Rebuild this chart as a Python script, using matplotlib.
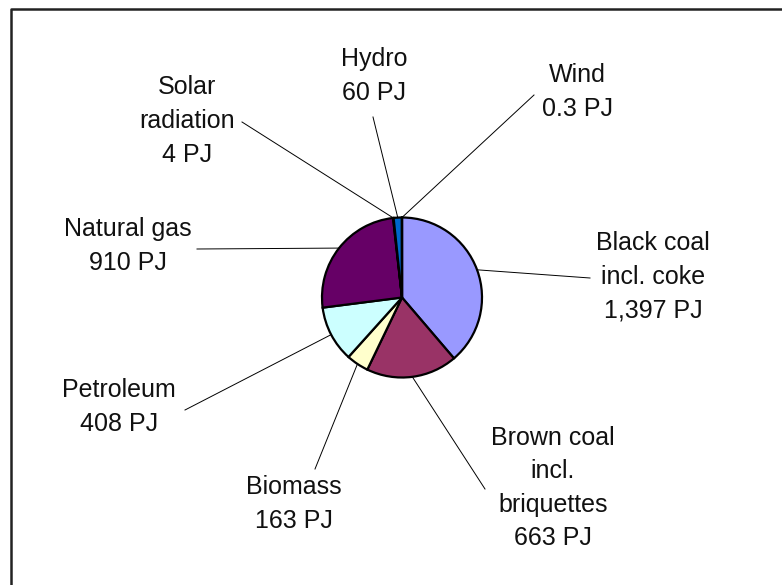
import matplotlib.pyplot as plt
import numpy as np

plt.rcParams['font.family'] = ['Liberation Sans', 'DejaVu Sans']

# energy sources, PJ
labels = ['Black coal\nincl. coke', 'Brown coal\nincl.\nbriquettes', 'Biomass',
          'Petroleum', 'Natural gas', 'Solar\nradiation', 'Hydro', 'Wind']
values = [1397, 663, 163, 408, 910, 4, 60, 0.3]
colors = ['#9999FF', '#993366', '#FFFFCC', '#CCFFFF', '#660066', '#FF8080', '#0066CC', '#CCCCFF']

# label layout in pixel coords (x, y from top) + where the leader starts
text_pos = [(653, 277), (553, 488), (294, 504), (119, 407), (128, 246), (187, 121), (374, 76), (577, 92)]
lead_pos = [(590, 278), (485, 489), (315, 469), (185, 410), (197, 249), (242, 122), (373, 117), (534, 95)]

W, H = 782, 585
fig = plt.figure(figsize=(W / 100, H / 100), dpi=100)
ax = fig.add_axes([0, 0, 1, 1])

cx, cy, r = 402, H - 297.5, 80
wedges, _ = ax.pie(values, colors=colors, startangle=90, counterclock=False,
                   center=(cx, cy), radius=r,
                   wedgeprops=dict(edgecolor='black', linewidth=1.6))

for w, lab, v, tp, lp in zip(wedges, labels, values, text_pos, lead_pos):
    mid = np.deg2rad((w.theta1 + w.theta2) / 2)
    px, py = cx + r * np.cos(mid), cy + r * np.sin(mid)
    ax.plot([lp[0], px], [H - lp[1], py], color='black', lw=0.7)
    ax.text(tp[0], H - tp[1], f'{lab}\n{v:,g} PJ', ha='center', va='center',
            fontsize=18, linespacing=1.5, color='#111111')

# chart frame (only top/left visible)
ax.plot([11, 11, W], [0, H - 8.5, H - 8.5], color='#222222', lw=1.8, clip_on=False)

ax.set_xlim(0, W)
ax.set_ylim(0, H)
ax.set_aspect('auto')
ax.axis('off')
fig.savefig('out.png', dpi=100)
